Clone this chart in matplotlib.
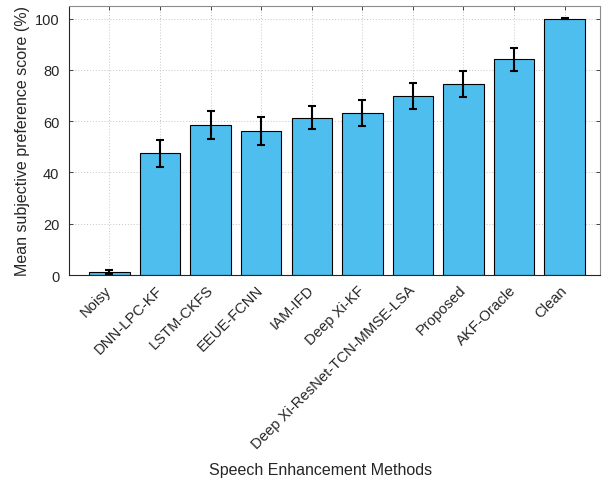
import matplotlib
matplotlib.use("Agg")
import matplotlib.pyplot as plt

plt.rcParams['font.family'] = ['Liberation Sans', 'DejaVu Sans']

methods = ["Noisy", "DNN-LPC-KF", "LSTM-CKFS", "EEUE-FCNN", "IAM-IFD",
           "Deep Xi-KF", "Deep Xi-ResNet-TCN-MMSE-LSA", "Proposed",
           "AKF-Oracle", "Clean"]
scores = [1.2, 47.5, 58.6, 56.2, 61.4, 63.1, 69.7, 74.5, 84.1, 100.0]
ci = [0.8, 5.3, 5.5, 5.4, 4.6, 5.1, 5.0, 5.0, 4.5, 0.1]

fig = plt.figure(figsize=(6.05, 4.81), dpi=100)
ax = fig.add_axes([69/605, 1 - 276/481, (600 - 69)/605, (276 - 6.7)/481])

x = list(range(len(methods)))
ax.bar(x, scores, width=0.8, color="#4DBEEE", edgecolor="black",
       linewidth=0.8, zorder=2)
ax.errorbar(x, scores, yerr=ci, fmt="none", ecolor="black", elinewidth=1.5,
            capsize=3, capthick=1.5, zorder=3)

ax.set_xlim(-0.8, 9.7)
ax.set_ylim(0, 105)
ax.set_yticks([0, 20, 40, 60, 80, 100])
ax.set_xticks(x)
ax.set_xticklabels(methods, rotation=45, ha="right", va="center",
                   rotation_mode="anchor", fontsize=10.6)
ax.tick_params(axis="both", direction="in", top=True, right=True,
               labelsize=10.5, length=3, width=0.6, colors="#262626")
ax.tick_params(axis="x", pad=9, labelsize=10.6)
ax.tick_params(axis="y", pad=7)

ax.grid(True, linestyle=(0, (1, 2)), color="#c4c4c4", linewidth=0.7, zorder=0)
ax.set_axisbelow(True)

for side in ("left", "bottom"):
    ax.spines[side].set_color("#262626")
    ax.spines[side].set_linewidth(0.8)
for side in ("top", "right"):
    ax.spines[side].set_color("#8c8c8c")
    ax.spines[side].set_linewidth(0.8)

ax.set_ylabel("Mean subjective preference score (%)", fontsize=11.5,
              color="#262626")
ax.yaxis.set_label_coords(-0.073, 0.5)
ax.set_xlabel("Speech Enhancement Methods", fontsize=11.5, color="#262626")
ax.xaxis.set_label_coords((321 - 69) / 531, -(463 - 276) / 269.3)

fig.savefig("out.png", dpi=100)
